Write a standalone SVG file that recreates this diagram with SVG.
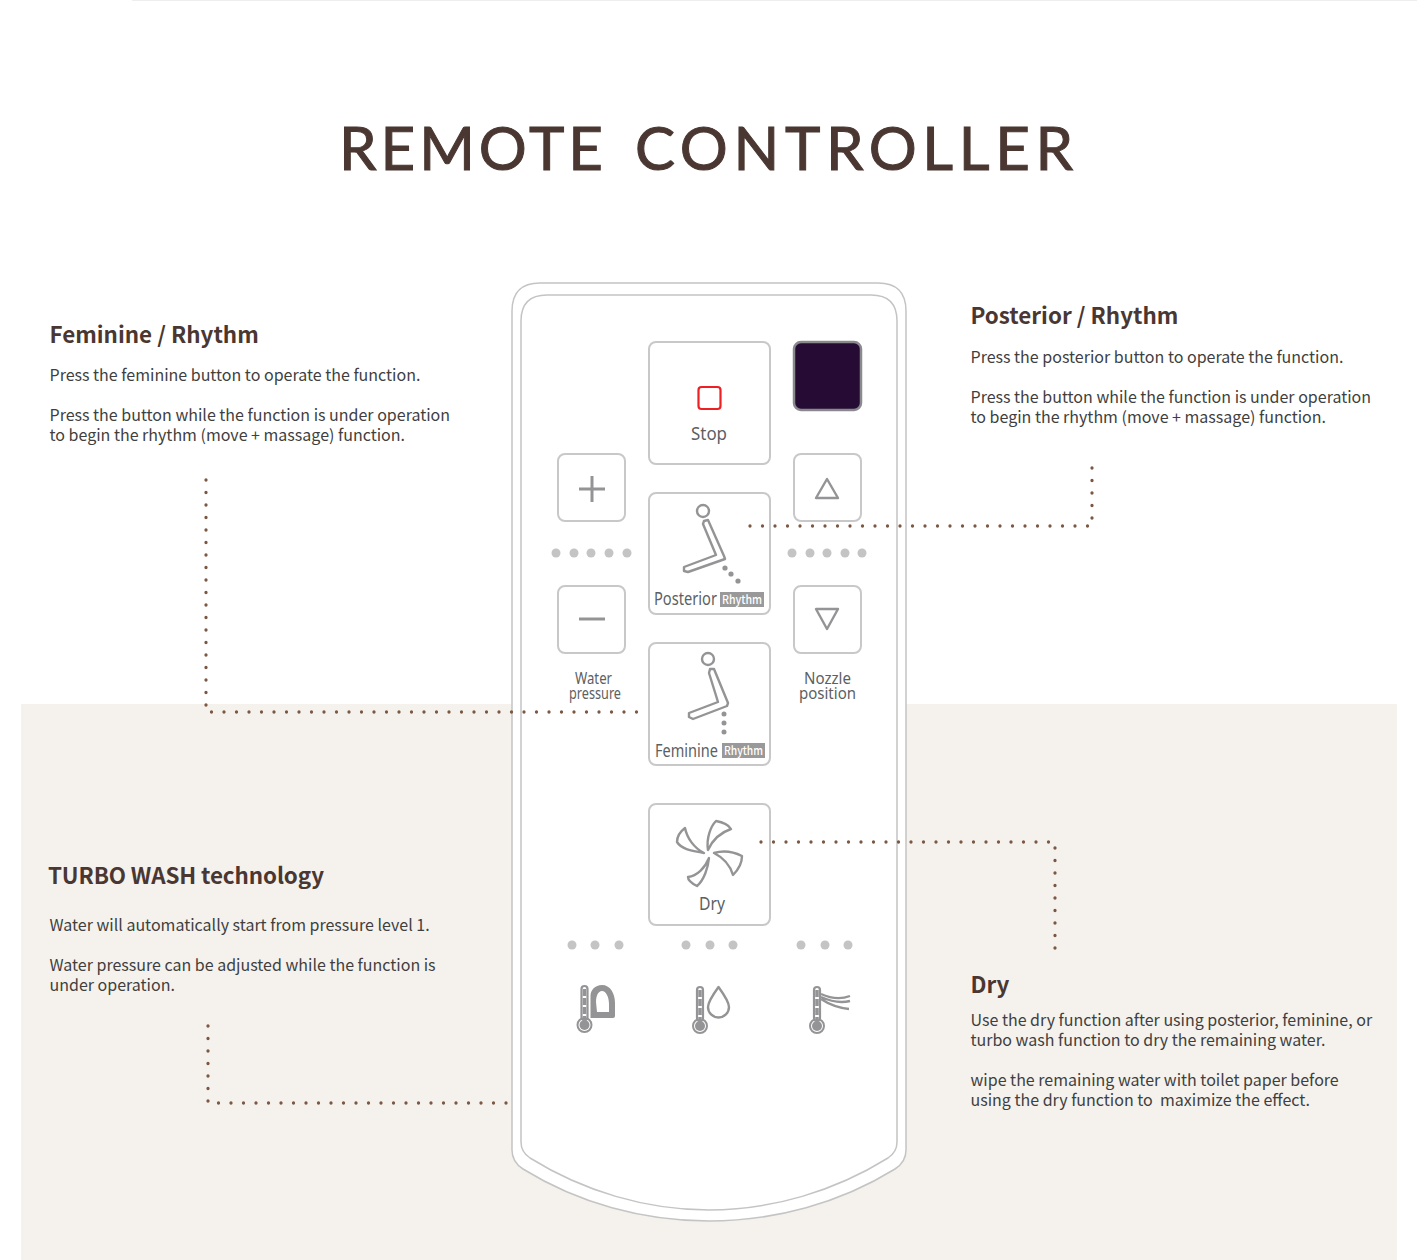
<svg xmlns="http://www.w3.org/2000/svg" width="1417" height="1260" viewBox="0 0 1417 1260">
<style>
text{font-family:"Noto Sans CJK KR","Noto Sans",sans-serif}
.h{font-size:22.400px;font-weight:700;fill:#4a3732}
.b{font-size:16px;fill:#3f3f3f}
.lb{font-size:18px;fill:#5c5f63;font-family:"Noto Sans","Open Sans",sans-serif}
.btn{fill:#fff;stroke:#c8c8c8;stroke-width:2}
.ic{fill:none;stroke:#949496;stroke-width:2.400;stroke-linejoin:round}
.led{fill:#c4c4c4}
.dot{fill:none;stroke:#7a5843;stroke-width:3.300;stroke-linecap:round;stroke-dasharray:0 12.500}
.shell{fill:#fff;stroke:#c4c4c4;stroke-width:1.500}
.rh{fill:#999}
.rt{font-size:11.500px;fill:#fff;font-weight:500}
.g{fill:#949496}
</style>
<rect width="1417" height="1260" fill="#fff"/>
<rect x="132" y="0" width="1285" height="1" fill="#eeeeee"/>
<rect id="panel" x="21" y="704" width="1376" height="556" fill="#f5f2ed"/>
<text id="title" y="170" style="font-family:Lato,sans-serif;font-size:60px" fill="#4a3732" stroke="#4a3732" stroke-width="1"><tspan x="339" textLength="264" lengthAdjust="spacing">REMOTE</tspan><tspan x="635" textLength="438" lengthAdjust="spacing">CONTROLLER</tspan></text>

<g id="remote">
<path class="shell" d="M540 283H878Q906 283 906 311V1150Q906 1162 895 1169C840 1203 775 1221 709 1221C643 1221 578 1203 523 1169Q512 1162 512 1150V311Q512 283 540 283Z"/>
<path class="shell" d="M547 295H871Q897 295 897 321V1142Q897 1152 888 1158C835 1191 772 1210 709 1210C646 1210 583 1191 530 1158Q521 1152 521 1142V321Q521 295 547 295Z"/>
</g>

<g id="feminine-note">
<text class="h" x="49.500" y="342.500">Feminine / Rhythm</text>
<text class="b" x="49.500" y="381">Press the feminine button to operate the function.</text>
<text class="b" x="49.500" y="421">Press the button while the function is under operation</text>
<text class="b" x="49.500" y="441">to begin the rhythm (move + massage) function.</text>
</g>
<g id="posterior-note">
<text class="h" x="970.500" y="324">Posterior / Rhythm</text>
<text class="b" x="970.500" y="363">Press the posterior button to operate the function.</text>
<text class="b" x="970.500" y="403">Press the button while the function is under operation</text>
<text class="b" x="970.500" y="423">to begin the rhythm (move + massage) function.</text>
</g>
<g id="turbo-note">
<text class="h" x="48" y="884" textLength="276">TURBO WASH technology</text>
<text class="b" x="49.500" y="931">Water will automatically start from pressure level 1.</text>
<text class="b" x="49.500" y="971">Water pressure can be adjusted while the function is</text>
<text class="b" x="49.500" y="991">under operation.</text>
</g>
<g id="dry-note">
<text class="h" x="970.500" y="993">Dry</text>
<text class="b" x="970.500" y="1026">Use the dry function after using posterior, feminine, or</text>
<text class="b" x="970.500" y="1046">turbo wash function to dry the remaining water.</text>
<text class="b" x="970.500" y="1086">wipe the remaining water with toilet paper before</text>
<text class="b" x="970.500" y="1106" xml:space="preserve">using the dry function to  maximize the effect.</text>
</g>

<g id="stop">
<rect class="btn" x="649" y="342" width="121" height="122" rx="7"/>
<rect x="698.500" y="387" width="22" height="22" rx="3" fill="#fff" stroke="#ed2024" stroke-width="2.200"/>
<text class="lb" x="691" y="440" textLength="36" lengthAdjust="spacingAndGlyphs">Stop</text>
</g>
<g id="power">
<rect x="794" y="342" width="67" height="68" rx="7" fill="#260b35" stroke="#8a8a8e" stroke-width="2.500"/>
</g>
<g id="plus">
<rect class="btn" x="558" y="454" width="67" height="67" rx="7"/>
<path class="ic" d="M579 489H605M592 476V502" style="stroke-width:3"/>
</g>
<g id="minus">
<rect class="btn" x="558" y="586" width="67" height="67" rx="7"/>
<path class="ic" d="M579 619H605" style="stroke-width:3"/>
</g>
<g id="up">
<rect class="btn" x="794" y="454" width="67" height="67" rx="7"/>
<path class="ic" d="M827 479L816 498H838Z"/>
</g>
<g id="down">
<rect class="btn" x="794" y="586" width="67" height="67" rx="7"/>
<path class="ic" d="M827 629L816 609H838Z"/>
</g>
<g id="leds-left" class="led">
<circle cx="556" cy="553" r="4.500"/><circle cx="574" cy="553" r="4.500"/><circle cx="591" cy="553" r="4.500"/><circle cx="609" cy="553" r="4.500"/><circle cx="627" cy="553" r="4.500"/>
</g>
<g id="leds-right" class="led">
<circle cx="792" cy="553" r="4.500"/><circle cx="810" cy="553" r="4.500"/><circle cx="827" cy="553" r="4.500"/><circle cx="845" cy="553" r="4.500"/><circle cx="862" cy="553" r="4.500"/>
</g>
<g id="water-label">
<text class="lb" x="575" y="684" textLength="37" lengthAdjust="spacingAndGlyphs" style="font-size:16.500px">Water</text>
<text class="lb" x="569" y="699" textLength="52" lengthAdjust="spacingAndGlyphs" style="font-size:16.500px">pressure</text>
</g>
<g id="nozzle-label">
<text class="lb" x="804" y="684" textLength="47" lengthAdjust="spacingAndGlyphs" style="font-size:17px">Nozzle</text>
<text class="lb" x="799" y="699" textLength="57" lengthAdjust="spacingAndGlyphs" style="font-size:17px">position</text>
</g>

<g id="posterior">
<rect class="btn" x="649" y="493" width="121" height="121" rx="7"/>
<circle class="ic" cx="703" cy="511" r="6"/>
<path class="ic" d="M704 521L708 520L724 556L725 559L688 572L684 571L684 567L716 555L703 524Z"/>
<circle class="g" cx="725" cy="568" r="2.600"/><circle class="g" cx="731" cy="574" r="2.600"/><circle class="g" cx="738" cy="581" r="2.600"/>
<text class="lb" x="654" y="605" textLength="63" lengthAdjust="spacingAndGlyphs" style="font-size:17.500px">Posterior</text>
<rect class="rh" x="720" y="592" width="44" height="15"/>
<text class="rt" x="722" y="604" textLength="40" lengthAdjust="spacingAndGlyphs">Rhythm</text>
</g>
<g id="feminine">
<rect class="btn" x="649" y="643" width="121" height="122" rx="7"/>
<circle class="ic" cx="708" cy="659" r="6"/>
<path class="ic" d="M710 669L714 669L728 703L727 706L693 719L689 717L689 713L718 702L709 673Z"/>
<circle class="g" cx="724" cy="714" r="2.500"/><circle class="g" cx="724" cy="723" r="2.500"/><circle class="g" cx="724" cy="732" r="2.500"/>
<text class="lb" x="655" y="757" textLength="63" lengthAdjust="spacingAndGlyphs" style="font-size:17.500px">Feminine</text>
<rect class="rh" x="722" y="743" width="43" height="15"/>
<text class="rt" x="724" y="755" textLength="39" lengthAdjust="spacingAndGlyphs">Rhythm</text>
</g>
<g id="dry">
<rect class="btn" x="649" y="804" width="121" height="121" rx="7"/>
<g class="ic">
<path d="M708 850C706 838 711 826 716 821C722 822 728 824 731 829C722 832 713 839 708 850Z"/>
<path d="M704 853C694 851 682 850 677 842C677 836 681 831 685 828C687 838 694 848 704 853Z"/>
<path d="M714 853C724 850 734 852 742 856C742 863 738 870 733 875C730 865 724 858 714 853Z"/>
<path d="M709 858C708 868 704 880 697 886C693 884 688 881 688 877C697 876 705 868 709 858Z"/>
</g>
<text class="lb" x="699" y="910" textLength="26" lengthAdjust="spacingAndGlyphs">Dry</text>
</g>
<g id="leds-seat" class="led"><circle cx="572" cy="945" r="4.500"/><circle cx="595" cy="945" r="4.500"/><circle cx="619" cy="945" r="4.500"/></g>
<g id="leds-water" class="led"><circle cx="686" cy="945" r="4.500"/><circle cx="710" cy="945" r="4.500"/><circle cx="733" cy="945" r="4.500"/></g>
<g id="leds-air" class="led"><circle cx="801" cy="945" r="4.500"/><circle cx="825" cy="945" r="4.500"/><circle cx="848" cy="945" r="4.500"/></g>

<defs>
<g id="thermo">
<circle cx="0" cy="39" r="7" fill="#fff" stroke="#949496" stroke-width="2"/>
<circle cx="0" cy="39" r="5" fill="#949496"/>
<rect x="-3" y="0" width="6" height="34" rx="3" fill="#fff" stroke="#949496" stroke-width="2.200"/>
<path d="M0 3V34" stroke="#949496" stroke-width="3.500" stroke-dasharray="7 2"/>
</g>
</defs>
<g id="seat-temp">
<use href="#thermo" x="584.500" y="986"/>
<path fill-rule="evenodd" class="g" d="M590.500 1018V996C590.500 990 595 985 602 985C610 985 615 993 615 1003V1016Q615 1018 613 1018ZM597 1012H609V1004C609 997 606 991 602 991C598 991 596 996 596 1002Z"/>
</g>
<g id="water-temp">
<use href="#thermo" x="700" y="987"/>
<path class="ic" d="M718.500 987C712 996 708 1002 708 1007A10.500 10.500 0 0 0 729 1007C729 1002 725 996 718.500 987Z"/>
</g>
<g id="air-temp">
<use href="#thermo" x="817" y="987"/>
<path class="ic" d="M821 994C832 999 842 999 850 996M821 997C832 1002 842 1003 850 1001M821 999C830 1005 840 1008 849 1009"/>
</g>

<g id="connectors">
<path class="dot" d="M206 480V712H640"/>
<path class="dot" d="M750 526H1092V466"/>
<path class="dot" d="M761 842H1055V952"/>
<path class="dot" d="M208 1026V1103H510"/>
</g>
</svg>
